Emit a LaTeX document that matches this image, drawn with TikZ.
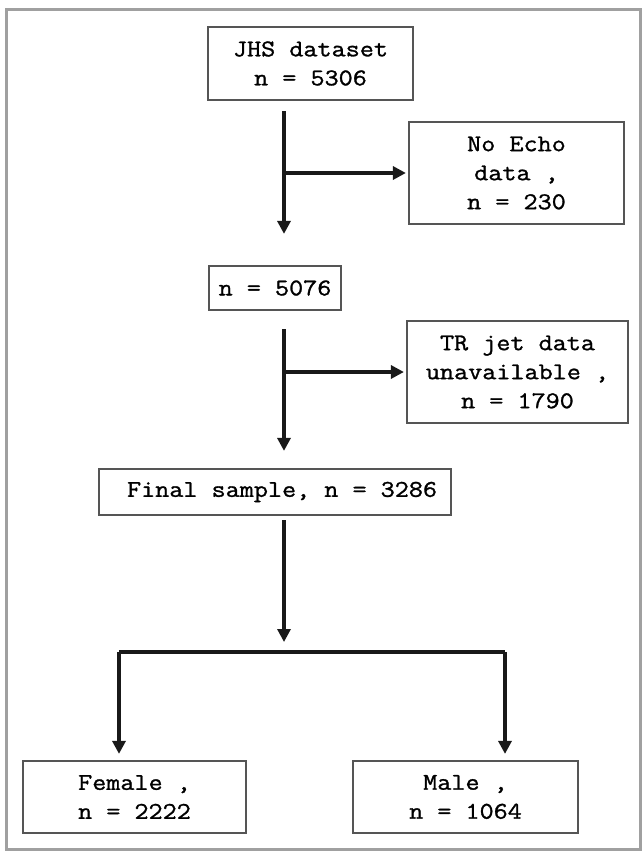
\documentclass[tikz,border=0pt]{standalone}
\usepackage{fontspec}
\setmonofont{Latin Modern Mono}[FakeStretch=1.14, FakeBold=1.2]
\usetikzlibrary{arrows.meta}

\definecolor{boxline}{HTML}{555555}
\definecolor{frameline}{HTML}{A0A0A0}

\begin{document}
\begin{tikzpicture}[x=1pt, y=-1pt, >={Triangle[length=13pt, width=13pt]},
    every node/.style={font=\ttfamily\fontsize{24}{29}\selectfont}]
    \tikzstyle{box} = [rectangle, draw=boxline, line width=2.2pt, fill=white, align=center, inner sep=0pt]
    \tikzstyle{flow} = [line width=3.2pt, draw=black!90]
    \useasboundingbox (0,0) rectangle (642,854);
    \draw [frameline, line width=3pt] (6,9) rectangle (640,849);

    \node (jhs) [box, minimum width=205pt, minimum height=73pt] at (310.5,63.5) {JHS dataset\\n = 5306};
    \node (noecho) [box, minimum width=215pt, minimum height=102pt] at (516.5,173) {No Echo\\data ,\\n = 230};
    \node (n5076) [box, minimum width=132pt, minimum height=44pt] at (275,288) {n = 5076};
    \node (trjet) [box, minimum width=221pt, minimum height=102pt] at (517.5,372) {TR jet data\\unavailable ,\\n = 1790};
    \node (final) [box, minimum width=352pt, minimum height=46pt] at (275,492) {~Final sample, n = 3286};
    \node (female) [box, minimum width=223pt, minimum height=72pt] at (134.5,797) {Female ,\\n = 2222};
    \node (male) [box, minimum width=225pt, minimum height=72pt] at (465.5,797) {Male ,\\n = 1064};

    % main spine and the split under the final sample
    \coordinate (spine) at (284,0);
    \coordinate (split) at (284,652);
    \coordinate (splitL) at (119,652);
    \coordinate (splitR) at (505,652);

    \draw [flow, ->, shorten <=10pt, shorten >=31pt] (jhs.south -| spine) -- (n5076.north -| spine);
    \draw [flow, ->, shorten >=2pt] (spine |- noecho.west) -- (noecho.west);
    \draw [flow, ->, shorten <=18pt, shorten >=17pt] (n5076.south -| spine) -- (final.north -| spine);
    \draw [flow, ->, shorten >=2pt] (spine |- trjet.west) -- (trjet.west);
    \draw [flow, ->, shorten <=4pt, shorten >=10pt] (final.south -| spine) -- (split);
    \draw [flow] (splitL) -- (splitR);
    \draw [flow, ->, shorten >=6pt] (splitL) -- (splitL |- female.north);
    \draw [flow, ->, shorten >=6pt] (splitR) -- (splitR |- male.north);

\end{tikzpicture}
\end{document}
